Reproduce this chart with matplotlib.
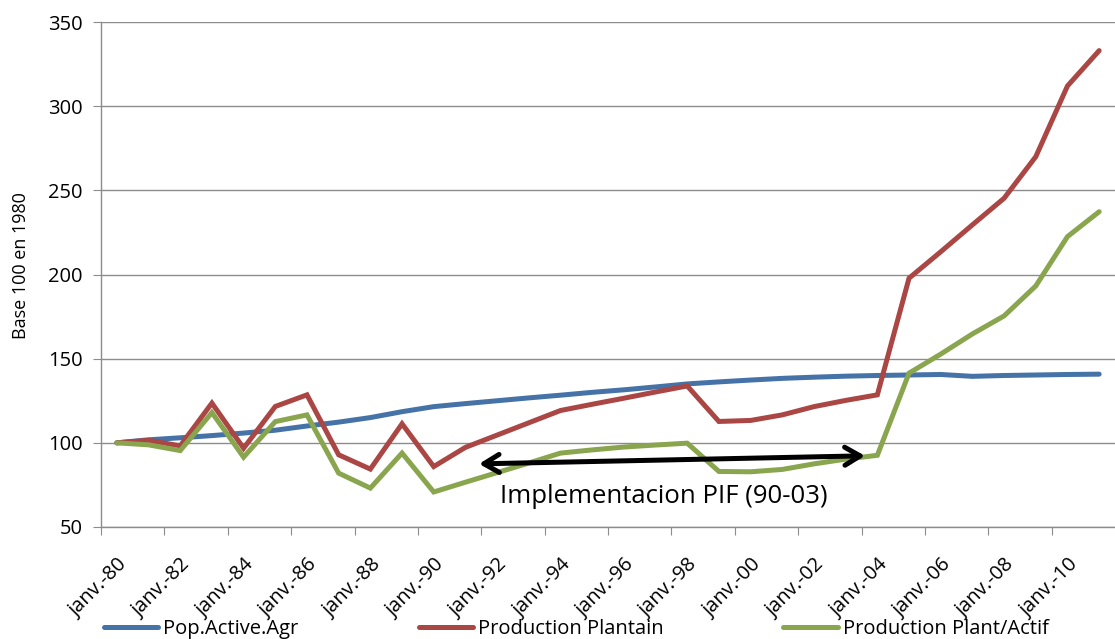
import numpy as np
import matplotlib
matplotlib.use("Agg")
import matplotlib.pyplot as plt
import matplotlib.transforms as mtransforms

# ── data ─────────────────────────────────────────────────────────────────────
years = list(range(1980, 2012))
labels = [f"janv.-{y % 100:02d}" for y in years]

pop_active = [100, 101.8, 103, 104.3, 105.8, 107.5, 110, 112.3, 115, 118.5,
              121.5, 123.3, 125, 126.7, 128.3, 130, 131.5, 133.2, 135, 136.2,
              137.3, 138.3, 139, 139.6, 140, 140.3, 140.6, 139.5, 140, 140.3,
              140.6, 140.8]
prod_plantain = [100, 101.5, 98.2, 123.6, 96.8, 121.6, 128.5, 92.9, 84.4, 111.3,
                 85.9, 97.3, 104.6, 111.9, 119.2, 122.9, 126.5, 130.2, 133.8, 112.7,
                 113.3, 116.6, 121.5, 125.2, 128.5, 197.8, 213.5, 229.5, 245.3, 270,
                 312, 333]
prod_per_actif = [100, 98.8, 95.4, 118, 91.5, 112.6, 116.6, 82, 73.1, 93.9,
                  70.8, 76.6, 82.3, 88, 93.9, 95.8, 97.5, 98.7, 99.8, 83,
                  82.8, 84.2, 87.5, 90.3, 92.6, 141.4, 152.7, 164.7, 175.4, 193.2,
                  222.5, 237.3]

series_names = ["Pop.Active.Agr", "Production Plantain", "Production Plant/Actif"]

# ── palette ──────────────────────────────────────────────────────────────────
BLUE  = "#4572A7"
RED   = "#AA4643"
GREEN = "#89A54E"
GRID  = "#8C8C8C"
FONT  = "Open Sans"

plt.rcParams["font.family"] = [FONT, "DejaVu Sans"]

# ── figure ───────────────────────────────────────────────────────────────────
fig = plt.figure(figsize=(11.15, 6.39), dpi=100)
ax = fig.add_axes([101 / 1115, 1 - 527 / 639, 1014 / 1115, 505 / 639])

x = np.arange(len(years))
lines = []
for vals, col, name in zip([pop_active, prod_plantain, prod_per_actif],
                           [BLUE, RED, GREEN], series_names):
    ln, = ax.plot(x, vals, color=col, lw=3.6, solid_joinstyle="miter",
                  solid_capstyle="round", label=name, zorder=3)
    lines.append(ln)

ax.set_xlim(-0.5, len(years) - 0.5)
ax.set_ylim(50, 350)
ax.set_yticks(range(50, 351, 50))
ax.grid(axis="y", color=GRID, lw=1.0, zorder=0)

for s in ["top", "right"]:
    ax.spines[s].set_visible(False)
for s in ["left", "bottom"]:
    ax.spines[s].set_color(GRID)
    ax.spines[s].set_linewidth(1.0)

# category ticks on boundaries every two years, labels on the categories
ax.set_xticks(np.arange(-0.5, len(years) - 1, 2))
ax.set_xticklabels([])
ax.set_xticks(x[::2], minor=True)
ax.set_xticklabels(labels[::2], minor=True, rotation=45, ha="right",
                   rotation_mode="anchor", fontsize=14.5)
shift = mtransforms.ScaledTranslation(5 / 100, 0, fig.dpi_scale_trans)
for lab in ax.get_xticklabels(minor=True):
    lab.set_transform(lab.get_transform() + shift)
ax.tick_params(axis="x", which="major", length=6, color=GRID, direction="out")
ax.tick_params(axis="x", which="minor", length=0, pad=20)
ax.tick_params(axis="y", length=6, color=GRID, labelsize=14.5, pad=7)

ax.set_ylabel("Base 100 en 1980", fontsize=13)
ax.yaxis.set_label_coords(-0.070, 0.517)

# PIF implementation arrow
ax.annotate("", xy=(11.43, 87.5), xytext=(23.61, 92.3),
            arrowprops=dict(arrowstyle="<->,head_length=1.1,head_width=0.65",
                            color="black", lw=3.6, shrinkA=0, shrinkB=0),
            zorder=5)
ax.text(17.26, 67.9, "Implementacion PIF (90-03)", fontsize=18.5,
        ha="center", va="center", zorder=5)

fig.legend(handles=lines, loc="lower left", bbox_to_anchor=(96 / 1115, -0.012),
           ncol=3, frameon=False, fontsize=14.5, handlelength=2.7,
           handletextpad=0.25, columnspacing=5.95, borderaxespad=0)

plt.savefig("out.png", dpi=100)
plt.close()
